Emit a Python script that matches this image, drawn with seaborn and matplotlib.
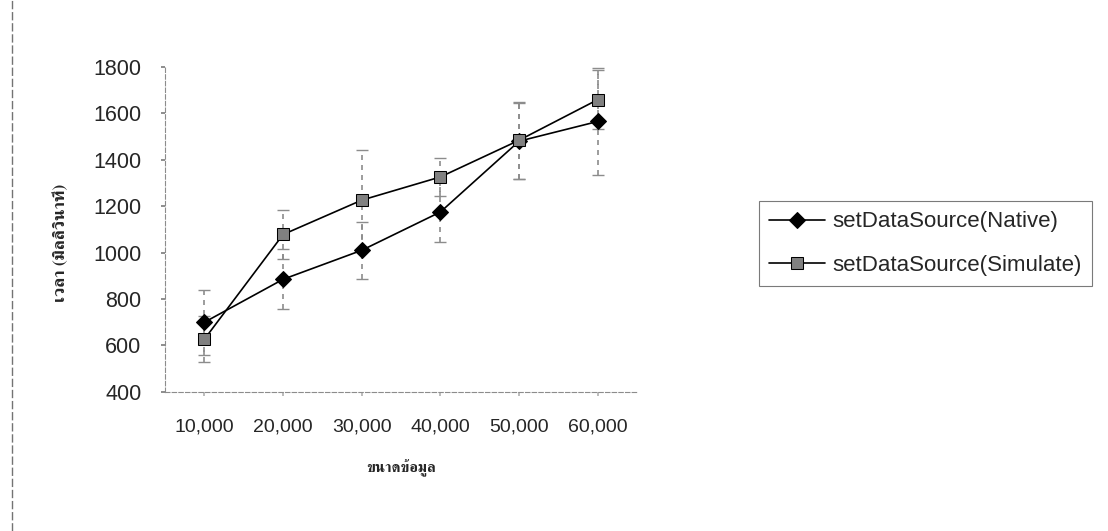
import numpy as np
import pandas as pd
import seaborn as sns
import matplotlib.pyplot as plt
from matplotlib import font_manager
from matplotlib.ft2font import FT2Font
from matplotlib.lines import Line2D

# data
sizes = ["10,000", "20,000", "30,000", "40,000", "50,000", "60,000"]
native = [700, 885, 1010, 1175, 1480, 1565]
simulate = [627, 1078, 1226, 1326, 1484, 1659]
native_err = [140, 130, 122, 130, 165, 230]
simulate_err = [100, 105, 215, 80, 165, 126]
series = ["setDataSource(Native)", "setDataSource(Simulate)"]
y_ticks = [400, 600, 800, 1000, 1200, 1400, 1600, 1800]


def thai_family():
    # purpose: find an installed family that has thai glyphs
    found = []
    for f in font_manager.fontManager.ttflist:
        try:
            if 0x0E40 in FT2Font(f.fname).get_charmap():
                found.append(f.name)
        except Exception:
            pass
    for name in found:
        if "Serif" in name:
            return name
    if found:
        return found[0]
    return "DejaVu Sans"


sns.set_theme(style="white")
thai = thai_family()
plt.rcParams['font.family'] = ['Liberation Sans', thai, 'DejaVu Sans']

# long form
df = pd.DataFrame({
    "size": sizes * 2,
    "time": native + simulate,
    "series": [series[0]] * len(sizes) + [series[1]] * len(sizes),
})

fig = plt.figure(figsize=(11.08, 5.31), dpi=100)
ax = fig.add_axes([0.149, 0.262, 0.426, 0.612])

# dashed error bars behind the lines
for vals, errs in [(native, native_err), (simulate, simulate_err)]:
    eb = ax.errorbar(sizes, vals, yerr=errs, fmt="none", ecolor="0.55",
                     elinewidth=1.2, capsize=4, capthick=1, zorder=1)
    for lc in eb[2]:
        lc.set_linestyle((0, (3, 3)))

sns.lineplot(
    data=df, x="size", y="time", hue="series", style="series",
    palette={series[0]: "black", series[1]: "black"},
    markers={series[0]: "D", series[1]: "s"}, dashes=False,
    markersize=8.5, markeredgecolor="black", linewidth=1.2, sort=False, ax=ax,
)

ax.set_ylim(400, 1800)
ax.set_xlim(-0.5, len(sizes) - 0.5)
ax.set_yticks(y_ticks)
ax.tick_params(axis="y", labelsize=15.5, length=3, color="0.5", pad=14, left=True)
ax.tick_params(axis="x", labelsize=14, length=3, color="0.7", pad=16, bottom=True)
for side in ["top", "right"]:
    ax.spines[side].set_visible(False)
for side in ["left", "bottom"]:
    ax.spines[side].set_color("0.55")
    ax.spines[side].set_linewidth(0.8)
    ax.spines[side].set_linestyle((0, (4, 2)))

ax.set_ylabel("เวลา (มิลลิวินาที)", family=[thai, 'DejaVu Sans'],
              fontsize=12.5, fontweight="bold")
ax.set_xlabel("ขนาดข้อมูล", family=[thai, 'DejaVu Sans'],
              fontsize=11, fontweight="bold")
ax.yaxis.set_label_coords(-0.205, 0.46)
ax.xaxis.set_label_coords(0.5, -0.209)

sns.move_legend(
    ax, "center left", bbox_to_anchor=(0.675, 0.5414),
    bbox_transform=fig.transFigure, title=None, frameon=True,
    fontsize=16, handlelength=2.5, handletextpad=0.35, borderpad=0.45,
    labelspacing=1.0, fancybox=False, edgecolor="0.35",
)
leg = ax.get_legend()
leg.get_frame().set_linewidth(0.8)

# grey fill for the square markers, in the plot and in the legend
for line in list(ax.get_lines()) + list(leg.legend_handles):
    if hasattr(line, "get_marker") and line.get_marker() == "s":
        line.set_markerfacecolor("0.5")

# faint scanned page border on the left
fig.add_artist(Line2D([0.011, 0.011], [0.0, 1.0], transform=fig.transFigure,
                      color="0.45", lw=1, ls=(0, (6, 2))))

fig.savefig("out.png", dpi=100)
